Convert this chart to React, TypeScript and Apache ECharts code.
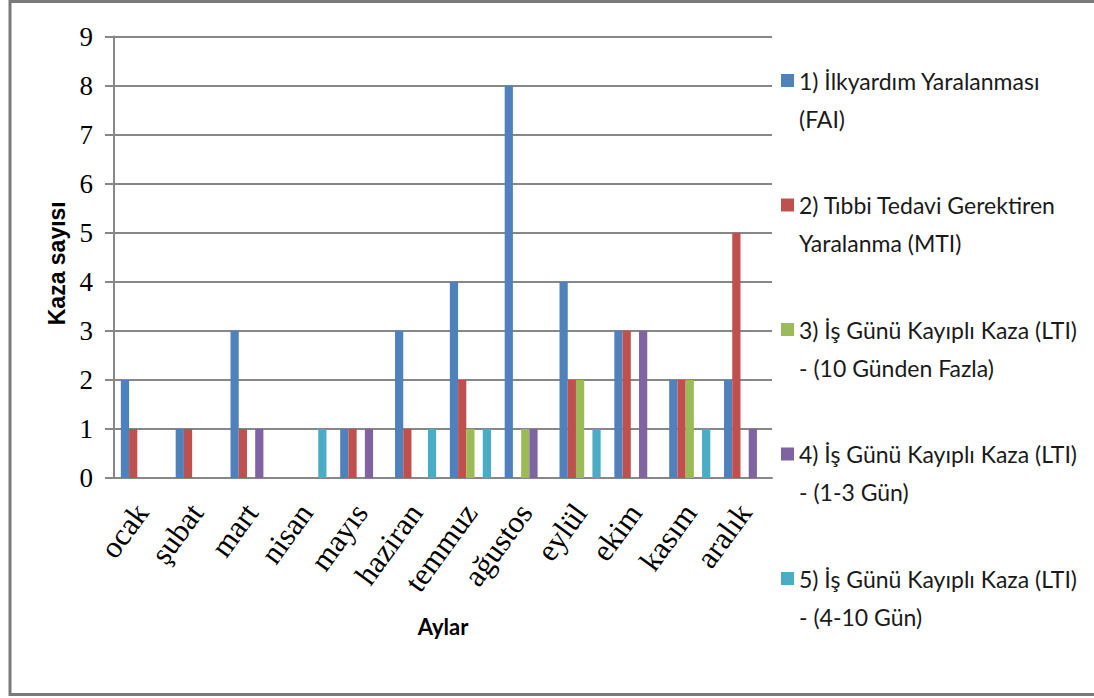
import React, { useEffect, useRef } from "react";
import * as echarts from "echarts";

const months = ["ocak", "şubat", "mart", "nisan", "mayıs", "haziran", "temmuz", "ağustos", "eylül", "ekim", "kasım", "aralık"];
const fai = [2, 1, 3, 0, 1, 3, 4, 8, 4, 3, 2, 2];
const mti = [1, 1, 1, 0, 1, 1, 2, 0, 2, 3, 2, 5];
const lti10 = [0, 0, 0, 0, 0, 0, 1, 1, 2, 0, 2, 0];
const lti13 = [0, 0, 1, 0, 1, 0, 0, 1, 0, 3, 0, 1];
const lti410 = [0, 0, 0, 1, 0, 1, 1, 0, 1, 0, 1, 0];

const seriesLines = [
  ["1) İlkyardım Yaralanması", "(FAI)"],
  ["2) Tıbbi Tedavi Gerektiren", "Yaralanma (MTI)"],
  ["3) İş Günü Kayıplı Kaza (LTI)", "- (10 Günden Fazla)"],
  ["4) İş Günü Kayıplı Kaza (LTI)", "- (1-3 Gün)"],
  ["5) İş Günü Kayıplı Kaza (LTI)", "- (4-10 Gün)"],
];
const seriesData = [fai, mti, lti10, lti13, lti410];
const colors = ["#4F81BD", "#C0504D", "#9BBB59", "#8064A2", "#4BACC6"];
const yTicks = { min: 0, max: 9, interval: 1 };

export default function App() {
  const ref = useRef<HTMLDivElement>(null);
  useEffect(() => {
    if (!ref.current) return;
    const chart = echarts.init(ref.current, null, { renderer: "svg" });
    const names = seriesLines.map((l) => l.join(" "));
    const legendMap: Record<string, string> = {};
    // leading blank line so the legend icon lines up with the first text line
    seriesLines.forEach((l, i) => (legendMap[names[i]] = " \n" + l.join("\n")));
    const gridColor = "#878787";
    chart.setOption({
      animation: false,
      backgroundColor: "#ffffff",
      grid: { left: 114, right: 322, top: 36.5, bottom: 220, containLabel: false },
      legend: {
        orient: "vertical",
        left: 781,
        top: 23.5,
        padding: 0,
        itemWidth: 13,
        itemHeight: 13,
        itemGap: 10.5,
        icon: "rect",
        data: names,
        formatter: (n: string) => legendMap[n] || n,
        textStyle: {
          fontFamily: "Lato",
          fontSize: 23,
          color: "#1a1a1a",
          lineHeight: 38,
        },
      },
      xAxis: {
        type: "category",
        data: months,
        name: "Aylar",
        nameLocation: "middle",
        nameGap: 137,
        nameTextStyle: { fontFamily: "Lato", fontWeight: "bold", fontSize: 22, color: "#000" },
        axisLine: { show: true, lineStyle: { color: gridColor, width: 2 } },
        axisTick: { show: false },
        axisLabel: {
          rotate: 54,
          margin: 29,
          fontFamily: "Liberation Serif",
          fontSize: 31,
          color: "#000",
          interval: 0,
        },
      },
      yAxis: {
        type: "value",
        min: yTicks.min,
        max: yTicks.max,
        interval: yTicks.interval,
        name: "Kaza sayısı",
        nameLocation: "middle",
        nameGap: 45,
        nameTextStyle: {
          fontFamily: "Liberation Sans",
          fontWeight: "bold",
          fontSize: 23,
          color: "#000",
          padding: [0, 12, 0, 0],
        },
        axisLine: { show: true, lineStyle: { color: gridColor, width: 2 } },
        axisTick: { show: true, length: 9, lineStyle: { color: gridColor, width: 2 } },
        axisLabel: { margin: 21, fontFamily: "Liberation Serif", fontSize: 27, color: "#000" },
        splitLine: { show: true, lineStyle: { color: gridColor, width: 2 } },
      },
      series: names.map((n, i) => ({
        name: n,
        type: "bar",
        data: seriesData[i],
        barGap: "0%",
        barCategoryGap: "25%",
        itemStyle: { color: colors[i] },
      })),
      graphic: [
        {
          type: "rect",
          shape: { x: 10, y: 1.5, width: 1100, height: 693 },
          style: { fill: "none", stroke: "#7a7a7a", lineWidth: 3 },
          silent: true,
        },
      ],
    });
    return () => chart.dispose();
  }, []);
  return <div ref={ref} style={{ position: "absolute", left: 0, top: 0, width: 1094, height: 698 }} />;
}
